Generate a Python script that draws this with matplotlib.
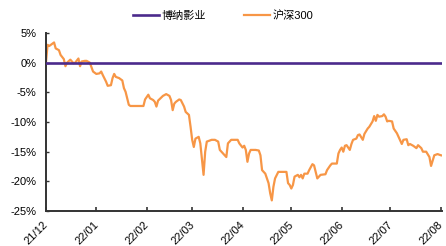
"""
博纳影业 vs 沪深300 累计涨跌幅 (2021/12 - 2022/08).
"""

import numpy as np
import pandas as pd
import matplotlib
matplotlib.use("Agg")
import matplotlib.pyplot as plt
import matplotlib.dates as mdates
import matplotlib.transforms as mtransforms
from matplotlib.ticker import FuncFormatter

plt.rcParams["font.family"] = ["Liberation Sans", "Noto Sans CJK SC", "DejaVu Sans"]

START = "2021-12-01"

# 读图估计: 距 2021-12-01 的天数, 沪深300 累计涨跌 (%)
day_offset = [
    0, 1, 2, 4, 5, 6, 8, 9, 11, 12, 13, 15, 17, 18, 20, 21, 22, 24, 25, 27,
    29, 31, 33, 34, 35, 37, 38, 40, 41, 42, 43, 45, 47, 48, 49, 51, 52, 60,
    61, 63, 64, 66, 67, 68, 69, 72, 74, 76, 77, 78, 79, 80, 82, 83, 85, 86,
    88, 89, 90, 91, 92, 94, 95, 97, 98, 99, 102, 104, 106, 107, 108, 111,
    112, 113, 114, 118, 119, 121, 122, 123, 124, 125, 126, 129, 131, 132,
    133, 135, 137, 138, 139, 140, 141, 143, 148, 149, 150, 151, 152, 153,
    155, 156, 157, 158, 159, 161, 162, 164, 165, 166, 167, 169, 172, 173,
    175, 176, 179, 180, 181, 182, 183, 184, 185, 187, 188, 189, 191, 192,
    193, 195, 196, 198, 199, 201, 202, 203, 204, 205, 207, 208, 209, 210,
    211, 213, 214, 216, 217, 219, 220, 222, 223, 224, 226, 228, 229, 231,
    232, 234, 236, 237, 239, 241, 243, 245,
]
hs300 = [
    0.0, 3.0, 2.8, 3.2, 3.4, 2.4, 2.1, 1.3, 0.6, -0.6, 0.0, 0.5, -0.1, 0.0,
    0.7, -0.6, 0.2, 0.3, 0.3, 0.0, -1.5, -1.9, -1.8, -1.5, -2.1, -3.2, -3.9,
    -3.8, -2.6, -1.9, -2.4, -2.6, -3.0, -4.3, -4.9, -7.1, -7.3, -7.3, -6.2,
    -5.4, -6.0, -6.3, -6.6, -7.4, -6.4, -5.6, -5.3, -5.6, -6.3, -8.0, -6.9,
    -6.6, -6.2, -6.3, -7.4, -8.3, -8.8, -10.8, -13.0, -14.2, -12.8, -12.5,
    -13.6, -18.9, -15.0, -13.3, -13.0, -13.0, -13.3, -14.7, -15.0, -15.9,
    -13.6, -13.3, -13.0, -13.0, -13.6, -14.3, -14.0, -14.7, -16.7, -15.3,
    -14.7, -14.7, -14.8, -15.6, -18.1, -18.7, -20.3, -22.0, -23.2, -20.9,
    -19.5, -18.4, -18.4, -20.3, -20.6, -21.2, -20.6, -19.2, -18.9, -19.3,
    -18.9, -19.5, -18.7, -18.7, -18.1, -17.1, -17.3, -18.4, -19.5, -18.9,
    -18.8, -18.1, -17.3, -17.0, -17.0, -15.3, -14.7, -14.3, -15.0, -14.0,
    -13.9, -14.7, -13.7, -13.0, -12.8, -12.2, -12.1, -13.0, -12.0, -11.1,
    -10.8, -9.9, -9.0, -9.8, -8.8, -9.1, -9.0, -8.7, -9.1, -9.9, -9.8, -9.9,
    -11.1, -11.9, -12.5, -13.7, -13.0, -12.9, -13.9, -13.7, -14.0, -14.4,
    -13.9, -14.4, -15.0, -15.0, -15.9, -17.4, -15.6, -15.4, -15.6, -15.7,
]
# 博纳影业 在图中为 0% 水平线
bona = [0.0] * len(day_offset)

tick_months = ["2021-12-01", "2022-01-01", "2022-02-01", "2022-03-01", "2022-04-01",
               "2022-05-01", "2022-06-01", "2022-07-01", "2022-08-01"]
y_ticks = [5, 0, -5, -10, -15, -20, -25]

dates = pd.Timestamp(START) + pd.to_timedelta(day_offset, unit="D")

fig = plt.figure(figsize=(4.46, 2.46), dpi=100)
ax = fig.add_axes([0.103, 0.142, 0.889, 0.724])

ax.plot(dates, bona, color="#4B2A8C", linewidth=1.9, label="博纳影业", zorder=3)
ax.plot(dates, hs300, color="#F79646", linewidth=1.6, label="沪深300", zorder=2)

ax.set_ylim(-25, 5)
ax.set_yticks(y_ticks)
ax.yaxis.set_major_formatter(FuncFormatter(lambda v, _: f"{v:.0f}%"))
ax.set_xlim(pd.Timestamp(START), pd.Timestamp(START) + pd.Timedelta(days=244))
ax.set_xticks(pd.to_datetime(tick_months))
ax.xaxis.set_major_formatter(mdates.DateFormatter("%y/%m"))

for s in ["top", "right"]:
    ax.spines[s].set_visible(False)
for s in ["left", "bottom"]:
    ax.spines[s].set_color("#333333")
    ax.spines[s].set_linewidth(1.4)

ax.tick_params(axis="y", direction="in", length=2, width=1, color="#333333",
               labelsize=8, pad=7)
ax.tick_params(axis="x", direction="in", length=3, width=1.2, color="#333333",
               labelsize=8, pad=6)
shift = mtransforms.ScaledTranslation(-3 / 100, 0, fig.dpi_scale_trans)
for lab in ax.get_xticklabels():
    lab.set_rotation(45)
    lab.set_ha("right")
    lab.set_rotation_mode("anchor")
    lab.set_transform(lab.get_transform() + shift)

fig.legend(loc="upper center", bbox_to_anchor=(0.5, 1.0), ncol=2, frameon=False,
           fontsize=8, handlelength=2.4, handletextpad=0.2, columnspacing=3.4)

fig.savefig("out.png", dpi=100)
plt.close(fig)
